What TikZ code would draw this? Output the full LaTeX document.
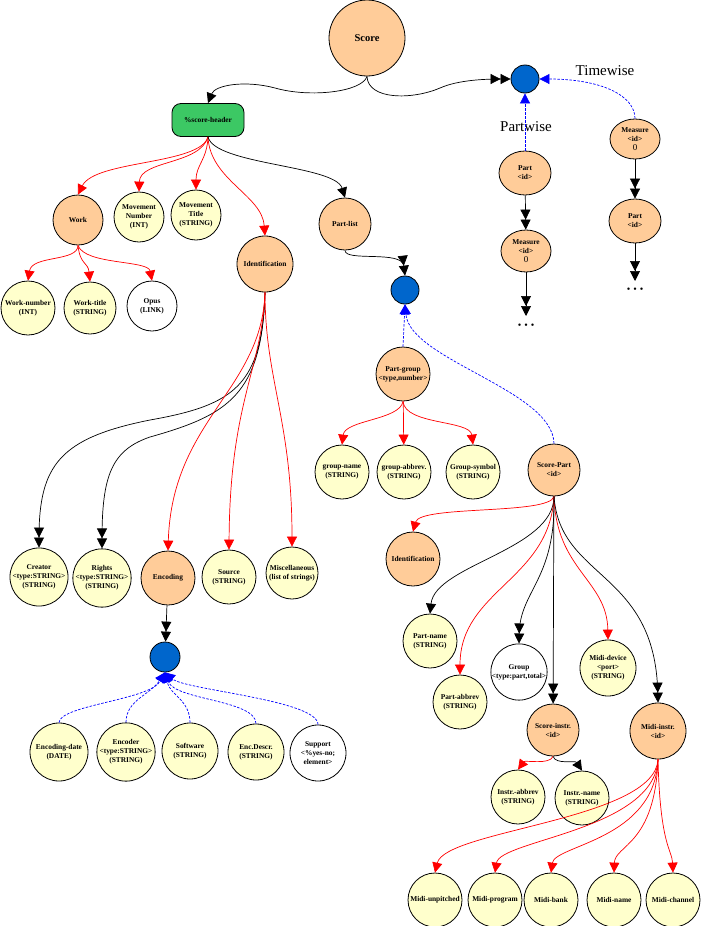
\documentclass[tikz,border=0pt]{standalone}
\usepackage{fontspec}
\setmainfont{Liberation Serif}
\usetikzlibrary{arrows.meta,shapes.geometric}

\definecolor{peach}{HTML}{FFCC99}
\definecolor{cream}{HTML}{FFFFCC}
\definecolor{hdrgreen}{HTML}{3CC864}
\definecolor{hubblue}{HTML}{0066CC}

\newcommand{\zero}{{\fontsize{9}{9}\selectfont\mdseries 0}}

\begin{document}
\begin{tikzpicture}[x=1pt, y=-1pt, line width=0.7pt, >={Triangle[length=10pt,width=10pt]},
  elt/.style={circle, draw, line width=0.8pt, inner sep=0pt, minimum size=54pt,
    align=center, font=\fontsize{7.4}{9}\selectfont\bfseries},
  cplx/.style={elt, fill=peach},
  leaf/.style={elt, fill=cream},
  link/.style={elt, fill=white},
  oval/.style={ellipse, draw, line width=0.8pt, fill=peach, inner sep=0pt,
    minimum width=52pt, minimum height=44pt, align=center,
    font=\fontsize{7.4}{9}\selectfont\bfseries},
  hub/.style={circle, draw, line width=0.8pt, fill=hubblue, minimum size=28pt, inner sep=0pt},
  member/.style={->, red},
  nested/.style={black},
  choice/.style={->, blue, dash pattern=on 2.5pt off 1.5pt},
  more/.style={font=\fontsize{10}{10}\selectfont}
]
\useasboundingbox (0,0) rectangle (701,926);

% top
\node[cplx, minimum size=76pt, font=\fontsize{10.5}{12}\selectfont\bfseries] (score) at (367,38) {Score};
\node[draw, fill=hdrgreen, rounded corners=9pt, minimum width=72pt, minimum height=33pt,
  line width=0.8pt, font=\fontsize{7.4}{9}\selectfont\bfseries] (hdr) at (208,120) {\%score-header};
\node[hub] (seqhub) at (525,79) {};
\node[font=\fontsize{15}{17}\selectfont] (timewise) at (605,71) {Timewise};
\node[font=\fontsize{15}{17}\selectfont] (partwise) at (526,127) {Partwise};

% partwise / timewise
\node[oval] (pwpart) at (525,173) {Part\\<id>};
\node[oval, minimum width=50pt, minimum height=42pt] (pwmeas) at (526,251) {Measure\\<id>\\\zero};
\coordinate (pwend) at (526,316);
\node[more] (pwdots) at (526,326) {\textbullet\hspace{3pt}\textbullet\hspace{3pt}\textbullet};
\node[oval, minimum width=50pt, minimum height=40pt] (twmeas) at (635,139) {Measure\\<id>\\\zero};
\node[oval] (twpart) at (635,221) {Part\\<id>};
\coordinate (twend) at (635,281);
\node[more] (twdots) at (635,290) {\textbullet\hspace{3pt}\textbullet\hspace{3pt}\textbullet};

% header
\node[cplx, minimum size=50pt] (work) at (78,220) {Work};
\node[leaf, minimum size=50pt] (movnum) at (139,217) {Movement\\Number\\(INT)};
\node[leaf, minimum size=50pt] (movtitle) at (196,215) {Movement\\Title\\(STRING)};
\node[cplx, minimum size=56pt] (ident) at (265,264) {Identification};
\node[cplx, minimum size=52pt] (plist) at (345,224) {Part-list};

\node[leaf] (worknum) at (28,308) {Work-number\\(INT)};
\node[leaf, minimum size=52pt] (worktitle) at (90,308) {Work-title\\(STRING)};
\node[link, minimum size=50pt] (opus) at (152,306) {Opus\\(LINK)};

% identification
\node[leaf, minimum size=58pt] (creator) at (39,577) {Creator\\<type:STRING>\\(STRING)};
\node[leaf, minimum size=56pt] (rights) at (102,578) {Rights\\<type:STRING>\\(STRING)};
\node[cplx] (encoding) at (168,578) {Encoding};
\node[leaf] (source) at (229,577) {Source\\(STRING)};
\node[leaf, minimum size=52pt] (misc) at (292,573) {Miscellaneous\\(list of strings)};

\node[hub, minimum size=30pt] (enchub) at (165,657) {};
\node[leaf, minimum size=58pt] (encdate) at (59,752) {Encoding-date\\(DATE)};
\node[leaf, minimum size=58pt] (encoder) at (126,752) {Encoder\\<type:STRING>\\(STRING)};
\node[leaf, minimum size=56pt] (software) at (190,751) {Software\\(STRING)};
\node[leaf, minimum size=56pt] (encdescr) at (256,752) {Enc.Descr.\\(STRING)};
\node[link, minimum size=56pt] (support) at (318,753) {Support\\<\%yes-no;\\element>};

% part-list
\node[hub] (grphub) at (405,290) {};
\node[cplx] (pgroup) at (403,374) {Part-group\\<type,number>};
\node[leaf] (grpname) at (342,472) {group-name\\(STRING)};
\node[leaf] (grpabbr) at (404,472) {group-abbrev.\\(STRING)};
\node[leaf] (grpsym) at (473,472) {Group-symbol\\(STRING)};
\node[cplx, minimum size=52pt] (spart) at (554,470) {Score-Part\\<id>};

% score-part
\node[cplx] (spident) at (413,559) {Identification};
\node[leaf] (pname) at (430,641) {Part-name\\(STRING)};
\node[leaf] (pabbr) at (460,702) {Part-abbrev\\(STRING)};
\node[link, minimum size=56pt] (group) at (519,672) {Group\\<type:part,total>};
\node[leaf, minimum size=56pt] (mdevice) at (608,668) {Midi-device\\<port>\\(STRING)};
\node[cplx, minimum size=52pt] (sinstr) at (553,730) {Score-instr.\\<id>};
\node[cplx, minimum size=56pt] (minstr) at (658,731) {Midi-instr.\\<id>};
\node[leaf] (iabbr) at (518,797) {Instr.-abbrev\\(STRING)};
\node[leaf] (iname) at (582,798) {Instr.-name\\(STRING)};

\node[leaf] (munp) at (435,900) {Midi-unpitched};
\node[leaf] (mprog) at (495,900) {Midi-program};
\node[leaf] (mbank) at (551,900) {Midi-bank};
\node[leaf] (mname) at (614,900) {Midi-name};
\node[leaf] (mchan) at (673,900) {Midi-channel};

% score edges
\draw[nested, ->] (score.south) .. controls (362,92) and (310,98) .. (275,88)
  .. controls (245,80) and (215,85) .. (hdr.north);
\draw[nested, ->>] (score.south) .. controls (368,100) and (412,100) .. (440,88)
  .. controls (458,80) and (485,79) .. (seqhub.west);
\draw[choice] (pwpart.north) -- (seqhub.south);
\draw[choice] (twmeas.north) .. controls (635,95) and (600,79) .. (seqhub.east);
\draw[nested, ->>] (pwpart) -- (pwmeas);
\draw[nested, ->>] (pwmeas) -- (pwend);
\draw[nested, ->>] (twmeas) -- (twpart);
\draw[nested, ->>] (twpart) -- (twend);

% header edges
\draw[member] (hdr.south) .. controls (200,165) and (95,160) .. (work.north);
\draw[member] (hdr.south) .. controls (200,165) and (140,160) .. (movnum.north);
\draw[member] (hdr.south) .. controls (207,160) and (196,165) .. (movtitle.north);
\draw[member] (hdr.south) .. controls (210,180) and (262,195) .. (ident.north);
\draw[nested, ->] (hdr.south) .. controls (215,165) and (335,165) .. (plist.north);

\draw[member] (work.south) .. controls (78,262) and (32,255) .. (worknum.north);
\draw[member] (work.south) .. controls (80,265) and (88,262) .. (worktitle.north);
\draw[member] (work.south) .. controls (85,265) and (148,260) .. (opus.north);

% identification edges
\draw[nested, ->>] (ident.south) .. controls (262,385) and (235,405) .. (150,420)
  .. controls (60,438) and (39,465) .. (creator.north);
\draw[nested, ->>] (ident.south) .. controls (262,395) and (228,415) .. (150,437)
  .. controls (112,450) and (102,475) .. (rights.north);
\draw[member] (ident.south) .. controls (262,390) and (172,420) .. (encoding.north);
\draw[member] (ident.south) .. controls (262,370) and (230,400) .. (source.north);
\draw[member] (ident.south) .. controls (265,380) and (292,420) .. (misc.north);

\draw[nested, ->>] (encoding) -- (enchub);
\draw[choice] (encdate.north) .. controls (60,705) and (150,700) .. (enchub.south);
\draw[choice] (encoder.north) .. controls (126,700) and (150,695) .. (enchub.south);
\draw[choice] (software.north) .. controls (190,700) and (170,695) .. (enchub.south);
\draw[choice] (encdescr.north) .. controls (256,700) and (175,700) .. (enchub.south);
\draw[choice] (support.north) .. controls (318,700) and (185,690) .. (enchub.south);

% part-list edges
\draw[nested, ->>] (plist.south) .. controls (345,262) and (402,250) .. (grphub.north);
\draw[choice] (pgroup.north) -- (grphub.south);
\draw[choice] (spart.north) .. controls (553,390) and (410,360) .. (grphub.south);
\draw[member] (pgroup.south) .. controls (400,420) and (345,420) .. (grpname.north);
\draw[member] (pgroup) -- (grpabbr);
\draw[member] (pgroup.south) .. controls (405,425) and (470,420) .. (grpsym.north);

% score-part edges
\draw[member] (spart.south) .. controls (550,515) and (420,505) .. (spident.north);
\draw[nested, ->] (spart.south) .. controls (554,550) and (435,565) .. (pname.north);
\draw[member] (spart.south) .. controls (550,580) and (460,590) .. (pabbr.north);
\draw[nested, ->>] (spart.south) .. controls (556,580) and (520,590) .. (group.north);
\draw[nested, ->>] (spart) -- (sinstr);
\draw[member] (spart.south) .. controls (556,570) and (607,580) .. (mdevice.north);
\draw[nested, ->>] (spart.south) .. controls (560,580) and (655,570) .. (minstr.north);

\draw[member] (sinstr.south) .. controls (550,765) and (525,760) .. (iabbr.north);
\draw[nested, ->] (sinstr.south) .. controls (556,765) and (575,760) .. (iname.north);

\draw[member] (minstr.south) .. controls (655,820) and (445,830) .. (munp.north);
\draw[member] (minstr.south) .. controls (655,830) and (500,840) .. (mprog.north);
\draw[member] (minstr.south) .. controls (655,840) and (555,845) .. (mbank.north);
\draw[member] (minstr.south) .. controls (655,845) and (615,845) .. (mname.north);
\draw[member] (minstr.south) .. controls (660,845) and (672,850) .. (mchan.north);

\end{tikzpicture}
\end{document}
